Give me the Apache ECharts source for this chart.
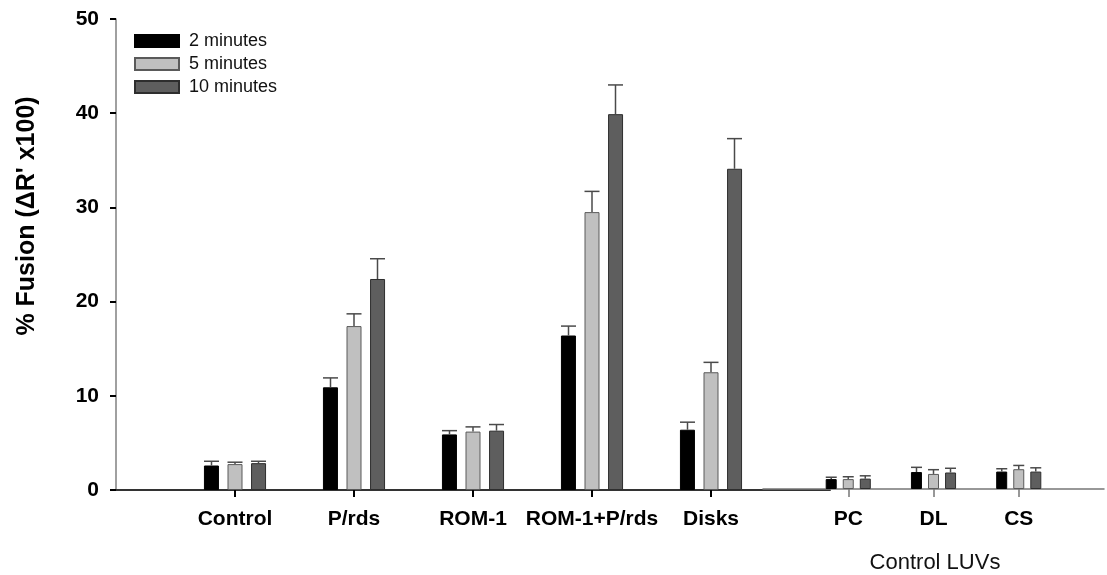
<!DOCTYPE html>
<html>
<head>
<meta charset="utf-8">
<script src="https://cdn.jsdelivr.net/npm/echarts@6/dist/echarts.min.js"></script>
<style>html,body{margin:0;padding:0;background:#fff;}#c{width:1107px;height:575px;}</style>
</head>
<body>
<div id="c"></div>
<script>
// ---- data ----
var mainCategories = ['Control', 'P/rds', 'ROM-1', 'ROM-1+P/rds', 'Disks'];
var luvCategories = ['PC', 'DL', 'CS'];
var seriesNames = ['2 minutes', '5 minutes', '10 minutes'];
var yTicks = [0, 10, 20, 30, 40, 50];

var main2 = [2.6, 10.9, 5.9, 16.4, 6.4];
var main5 = [2.75, 17.4, 6.2, 29.5, 12.5];
var main10 = [2.85, 22.4, 6.3, 39.9, 34.1];
var main2Err = [0.45, 1.0, 0.4, 1.0, 0.8];
var main5Err = [0.2, 1.3, 0.5, 2.2, 1.05];
var main10Err = [0.2, 2.15, 0.65, 3.1, 3.2];

var luv2 = [1.05, 1.8, 1.85];
var luv5 = [1.05, 1.6, 2.1];
var luv10 = [1.1, 1.75, 1.85];
var luv2Err = [0.2, 0.5, 0.3];
var luv5Err = [0.25, 0.45, 0.4];
var luv10Err = [0.3, 0.45, 0.4];

var fills = ['#000000', '#c0c0c0', '#5e5e5e'];
var borders = ['#000000', '#5a5a5a', '#2e2e2e'];
var FONT = 'Liberation Sans, Arial, sans-serif';

function pad(arr) { return [null].concat(arr, [null]); }

var mainVals = [main2, main5, main10];
var mainErrs = [main2Err, main5Err, main10Err];
var luvVals = [luv2, luv5, luv10];
var luvErrs = [luv2Err, luv5Err, luv10Err];

var series = [];
function addGroup(vals, errs, axisIdx, barW, gap, spacing) {
  for (var s = 0; s < 3; s++) {
    series.push({
      type: 'bar', name: seriesNames[s], xAxisIndex: axisIdx, yAxisIndex: axisIdx,
      data: pad(vals[s]), barWidth: barW, barGap: gap,
      itemStyle: { color: fills[s], borderColor: borders[s], borderWidth: 1 },
      z: 2
    });
  }
  for (var s2 = 0; s2 < 3; s2++) {
    (function (si) {
      var d = vals[si].map(function (v, i) { return [i + 1, v, v + errs[si][i]]; });
      series.push({
        type: 'custom', name: 'err' + axisIdx + '_' + si, xAxisIndex: axisIdx, yAxisIndex: axisIdx,
        data: d, encode: { x: 0, y: 2 }, z: 3, silent: true,
        renderItem: function (params, api) {
          var idx = api.value(0);
          var p0 = api.coord([idx, api.value(1)]);
          var p1 = api.coord([idx, api.value(2)]);
          var x = p0[0] + (si - 1) * spacing;
          var hw = barW / 2;
          var st = { stroke: '#4a4a4a', lineWidth: 1.5 };
          return {
            type: 'group', children: [
              { type: 'line', shape: { x1: x, y1: p0[1], x2: x, y2: p1[1] }, style: st },
              { type: 'line', shape: { x1: x - hw, y1: p1[1], x2: x + hw, y2: p1[1] }, style: st }
            ]
          };
        }
      });
    })(s2);
  }
}
addGroup(mainVals, mainErrs, 0, 15, '57%', 23.5);
addGroup(luvVals, luvErrs, 1, 11, '55%', 17);

var chart = echarts.init(document.getElementById('c'));
chart.setOption({
  animation: false,
  backgroundColor: '#fff',
  legend: {
    data: seriesNames, orient: 'vertical', left: 134, top: 32, padding: 0, icon: 'rect',
    itemWidth: 44, itemHeight: 12, itemGap: 5, selectedMode: false,
    textStyle: { fontFamily: FONT, fontSize: 18, color: '#111', padding: [0, 0, 0, 5] }
  },
  grid: [
    { left: 116, top: 19, width: 714, bottom: 85, containLabel: false },
    { left: 763, top: 18, width: 344, bottom: 86, containLabel: false }
  ],
  xAxis: [
    {
      type: 'category', gridIndex: 0, boundaryGap: false, data: pad(mainCategories).map(function (v) { return v === null ? '' : v; }),
      axisLine: { lineStyle: { color: '#333', width: 2 } },
      axisTick: { length: 7, lineStyle: { color: '#000', width: 2 }, interval: function (i, v) { return v !== ''; } },
      axisLabel: { margin: 19, fontFamily: FONT, fontSize: 21, fontWeight: 'bold', color: '#000', interval: 0 },
      splitLine: { show: false }
    },
    {
      type: 'category', gridIndex: 1, boundaryGap: false, data: pad(luvCategories).map(function (v) { return v === null ? '' : v; }),
      axisLine: { lineStyle: { color: '#777', width: 1.5 } },
      axisTick: { length: 8, lineStyle: { color: '#777', width: 1.5 }, interval: function (i, v) { return v !== ''; } },
      axisLabel: { margin: 20, fontFamily: FONT, fontSize: 21, fontWeight: 'bold', color: '#000', interval: 0 },
      splitLine: { show: false }
    }
  ],
  yAxis: [
    {
      type: 'value', gridIndex: 0, min: yTicks[0], max: yTicks[yTicks.length - 1], interval: 10,
      axisLine: { show: true, lineStyle: { color: '#808080', width: 1.5 } },
      axisTick: { show: true, length: 6, lineStyle: { color: '#000', width: 2 } },
      axisLabel: { margin: 17, fontFamily: FONT, fontSize: 21, fontWeight: 'bold', color: '#000' },
      splitLine: { show: false }
    },
    {
      type: 'value', gridIndex: 1, min: yTicks[0], max: yTicks[yTicks.length - 1], interval: 10, show: false,
      splitLine: { show: false }
    }
  ],
  graphic: [
    {
      type: 'text', x: 27, y: 216, rotation: Math.PI / 2,
      style: { text: "% Fusion (\u0394R' x100)", font: 'bold 25px ' + FONT, fill: '#000', textAlign: 'center', textVerticalAlign: 'middle' }
    },
    {
      type: 'text', x: 935, y: 563,
      style: { text: 'Control LUVs', font: '22px ' + FONT, fill: '#111', textAlign: 'center', textVerticalAlign: 'middle' }
    }
  ],
  series: series
});
</script>
</body>
</html>
